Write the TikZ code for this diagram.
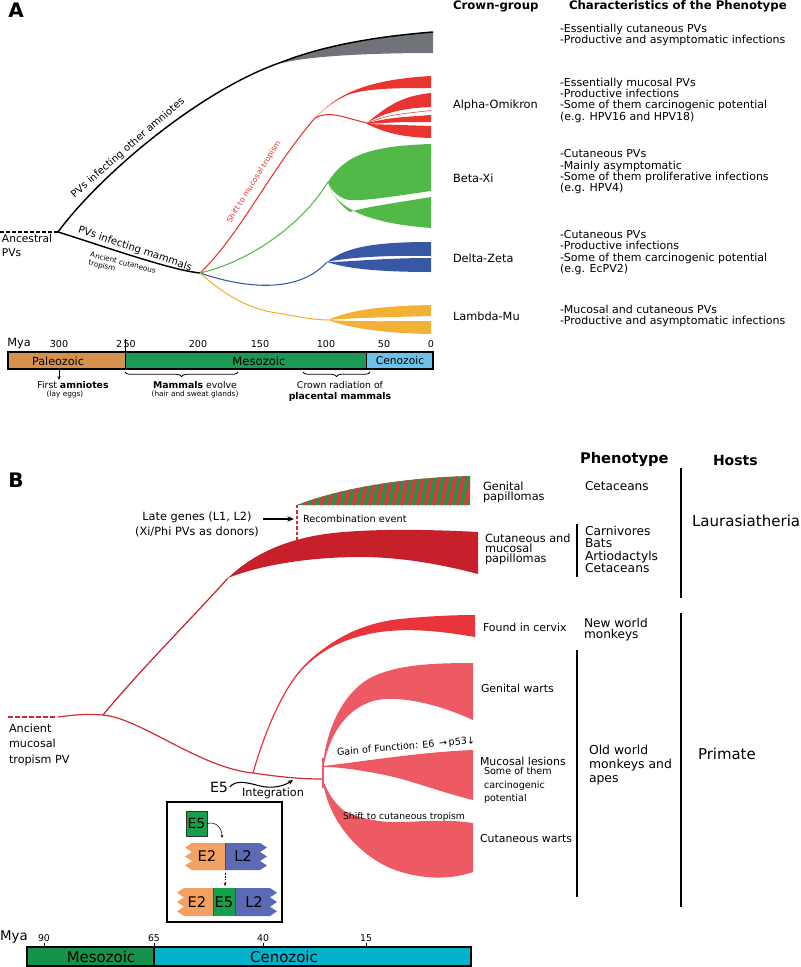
\documentclass[tikz,border=0pt]{standalone}
\usepackage{fontspec}
\setmainfont{DejaVu Sans}
\usetikzlibrary{arrows.meta,decorations.pathreplacing}
\newcommand\fsz[2]{\fontsize{#1pt}{#2pt}\selectfont}
\definecolor{redA}{HTML}{E8352F}
\definecolor{greenA}{HTML}{52B848}
\definecolor{blueA}{HTML}{3858A5}
\definecolor{yellowA}{HTML}{F2B034}
\definecolor{grayA}{HTML}{707478}
\definecolor{paleo}{HTML}{D6914C}
\definecolor{mesoA}{HTML}{1E9955}
\definecolor{cenoA}{HTML}{6EC0E6}
\definecolor{mesoB}{HTML}{15924C}
\definecolor{cenoB}{HTML}{00B3CB}
\definecolor{lineR}{HTML}{CF2B35}
\definecolor{darkR}{HTML}{C8202A}
\definecolor{cervR}{HTML}{E8343A}
\definecolor{pinkR}{HTML}{EE5A64}
\definecolor{strG}{HTML}{1B964B}
\definecolor{strR}{HTML}{D93A3A}
\definecolor{geneG}{HTML}{17A04C}
\definecolor{geneO}{HTML}{F4A060}
\definecolor{geneB}{HTML}{5A6AB4}
\begin{document}
\begin{tikzpicture}[x=0.75pt,y=-0.75pt,
  every node/.style={inner sep=0pt,outer sep=0pt},
  txtA/.style={anchor=west,align=left,font=\fsz{8.25}{8.5}},
  grpA/.style={anchor=west,font=\fsz{8.5}{9}},
  tickA/.style={font=\fsz{7.2}{8}},
  eraA/.style={font=\fsz{8.4}{9}},
  annA/.style={font=\fsz{7}{8}},
  parA/.style={font=\fsz{5.5}{6}},
  blk/.style={line width=1.1pt},
  hostline/.style={line width=1pt}]
\useasboundingbox (0,0) rectangle (800,967);

% ================= PANEL A =================
\node[font=\bfseries\fsz{15}{15}] (labA) at (16,10) {A};
\node[anchor=west,font=\bfseries\fsz{8.8}{9}] (hCG) at (453,6) {Crown-group};
\node[anchor=west,font=\bfseries\fsz{8.8}{9}] (hCH) at (569,6) {Characteristics of the Phenotype};

\node[txtA] (c0) at (560,35) {-Essentially cutaneous PVs\\-Productive and asymptomatic infections};
\node[txtA] (c1) at (560,100) {-Essentially mucosal PVs\\-Productive infections\\-Some of them carcinogenic potential\\(e.g. HPV16 and HPV18)};
\node[txtA] (c2) at (560,172) {-Cutaneous PVs\\-Mainly asymptomatic\\-Some of them proliferative infections\\(e.g. HPV4)};
\node[txtA] (c3) at (560,252.5) {-Cutaneous PVs\\-Productive infections\\-Some of them carcinogenic potential\\(e.g. EcPV2)};
\node[txtA] (c4) at (560,316) {-Mucosal and cutaneous PVs\\-Productive and asymptomatic infections};

\node[grpA] (g1) at (453,105) {Alpha-Omikron};
\node[grpA] (g2) at (453,178) {Beta-Xi};
\node[grpA] (g3) at (453,258) {Delta-Zeta};
\node[grpA] (g4) at (453,316) {Lambda-Mu};

% tree
\coordinate (root) at (58,232);
\coordinate (mam) at (200,273);
\coordinate (rA) at (315,118);
\coordinate (rB) at (367,123);
\coordinate (gA) at (328,182);
\coordinate (bA) at (327,262);
\coordinate (yA) at (328,320);

\draw[line width=0.9pt,dash pattern=on 3pt off 1.5pt] (0,232) -- (root);
\node[anchor=west,align=left,font=\fsz{8}{11.2}] (anc) at (2,245.5) {Ancestral\\PVs};

\fill[grayA] (282,62) .. controls (320,47) and (370,37) .. (433,32) -- (433,53) .. controls (370,53) and (310,56) .. (282,63) -- cycle;
\draw[blk] (root) .. controls (100,175) and (200,90) .. (282,62) .. controls (320,47) and (370,37) .. (433,32);
\draw[blk] (root) .. controls (100,245) and (170,270) .. (mam);

\node[font=\fsz{7.6}{8},rotate=41] (lOth) at (128,148) {PVs infecting other amniotes};
\node[font=\fsz{7.6}{8},rotate=-18.7] (lMam) at (135,249) {PVs infecting mammals};
\node[align=left,font=\fsz{5.4}{6},rotate=-14] (lAnc) at (122,267) {Ancient cutaneous\\tropism};

% red (Alpha-Omikron)
\draw[redA,line width=0.8pt] (mam) .. controls (240,235) and (270,170) .. (rA);
\fill[redA] (rA) .. controls (335,97) and (360,80) .. (431,76) -- (431,88) .. controls (400,88) and (370,88) .. (350,94) .. controls (335,100) and (325,108) .. (rA) -- cycle;
\draw[redA,line width=0.8pt] (rA) .. controls (330,110) and (345,118) .. (rB);
\fill[redA] (rB) .. controls (385,108) and (400,96) .. (431,93) -- (431,107) .. controls (405,108) and (385,112) .. (rB) -- cycle;
\draw[redA,line width=0.4pt] (rB) .. controls (390,115) .. (431,110.5);
\fill[redA] (rB) .. controls (390,118) .. (431,115) -- (431,122) .. controls (400,122) .. (367,124) -- cycle;
\fill[redA] (367,124) .. controls (400,125) .. (431,126) -- (431,138) .. controls (395,137) and (380,130) .. (367,124) -- cycle;
\node[redA,font=\fsz{5.8}{6},rotate=58] (lShift) at (254,182) {Shift to mucosal tropism};

% green (Beta-Xi)
\draw[greenA,line width=0.8pt] (mam) .. controls (245,263) and (300,228) .. (gA);
\fill[greenA] (gA) .. controls (345,155) and (370,146) .. (431,144) -- (431,191) .. controls (395,196) and (355,203) .. (345,199) .. controls (337,196) and (331,190) .. (gA) -- cycle;
\fill[greenA] (gA) .. controls (333,200) and (350,222) .. (431,228) -- (431,197) .. controls (395,203) and (365,207) .. (350,212) .. controls (341,206) and (333,196) .. (gA) -- cycle;

% blue (Delta-Zeta)
\draw[blueA,line width=0.8pt] (mam) .. controls (250,290) and (300,292) .. (bA);
\fill[blueA] (bA) .. controls (345,248) and (370,242) .. (431,242) -- (431,256) .. controls (380,255) and (345,258) .. (bA) -- cycle;
\fill[blueA] (bA) .. controls (350,262) and (380,258) .. (431,258) -- (431,272) .. controls (375,272) and (345,268) .. (bA) -- cycle;

% yellow (Lambda-Mu)
\draw[yellowA,line width=0.8pt] (mam) .. controls (230,300) and (255,310) .. (277,313) .. controls (300,317) and (315,320) .. (yA);
\fill[yellowA] (yA) .. controls (350,310) and (380,306) .. (431,305) -- (431,316) .. controls (390,317) and (350,318) .. (yA) -- cycle;
\fill[yellowA] (yA) .. controls (360,322) and (400,321) .. (431,321) -- (431,334) .. controls (380,333) and (350,328) .. (yA) -- cycle;

% timeline A
\fill[paleo] (8,352) rectangle (125,369);
\fill[mesoA] (125,352) rectangle (366,369);
\fill[cenoA] (366,352) rectangle (433,369);
\draw[line width=0.8pt] (8,352) rectangle (433,369);
\draw[line width=0.6pt] (366,352) -- (366,369);
\node[eraA] (tPal) at (58,361) {Paleozoic};
\node[font=\fsz{8.7}{9}] (tMes) at (259,361) {Mesozoic};
\node[font=\fsz{8}{9}] (tCen) at (400,361) {Cenozoic};
\node[font=\fsz{8.5}{9}] (tMya) at (19,344) {Mya};
\node[tickA] (t300) at (59,344) {300};
\node[tickA] (t250) at (126,344) {2\hspace{1pt}50};
\draw[line width=0.6pt] (125,339) -- (125,369);
\node[tickA] (t200) at (198,344) {200};
\node[tickA] (t150) at (260,344) {150};
\node[tickA] (t100) at (326,344) {100};
\node[tickA] (t50) at (384,344) {50};
\node[tickA] (t0) at (431,344) {0};
\coordinate (arrTop) at (59,370);
\coordinate (arrBot) at (59,380);
\draw[line width=0.5pt,-{Stealth[length=3pt,width=2.5pt]}] (arrTop) -- (arrBot);
\node[annA] (nAmn) at (73,385) {First \textbf{amniotes}};
\node[parA] (nLay) at (65,394) {(lay eggs)};
\draw[line width=0.6pt,decorate,decoration={brace,amplitude=3.5pt,mirror}] (125,372) -- (238,372);
\node[annA] (nMam) at (195,385) {\textbf{Mammals} evolve};
\node[parA] (nHair) at (195,394) {(hair and sweat glands)};
\draw[line width=0.6pt,decorate,decoration={brace,amplitude=3.5pt,mirror}] (303,372) -- (370,372);
\node[annA] (nCrown) at (340,385) {Crown radiation of};
\node[annA] (nPlac) at (340,397) {\textbf{placental mammals}};

% ================= PANEL B =================
\node[font=\bfseries\fsz{15}{15}] (labB) at (16,480) {B};
\node[anchor=west,font=\bfseries\fsz{11}{12}] (hPh) at (580,460) {Phenotype};
\node[anchor=west,font=\bfseries\fsz{10.5}{12}] (hHo) at (713,460) {Hosts};

\coordinate (brA) at (103,715);
\coordinate (brB) at (253,773);
\coordinate (brC) at (323,779);
\coordinate (brD) at (228,578);
\coordinate (rec) at (297,505);
\coordinate (recB) at (297,541);

% striped wedge
\begin{scope}
\clip (rec) .. controls (330,492) and (390,478) .. (470,476) -- (470,505) -- cycle;
\fill[strG] (290,470) rectangle (475,510);
\foreach \i in {0,...,24} \draw[strR,line width=3pt] ({288+8*\i},512) -- ({297+8*\i},470);
\end{scope}
\draw[lineR,line width=0.8pt,dash pattern=on 2.5pt off 1.5pt] (rec) -- (recB);

% dark red wedge
\fill[darkR] (brD) .. controls (255,552) and (290,538) .. (333,533) .. controls (380,528) and (440,530) .. (478,532) -- (478,574) .. controls (440,564) and (400,557) .. (360,557) .. controls (310,557) and (260,565) .. (brD) -- cycle;

% main line
\draw[lineR,line width=0.8pt,dash pattern=on 3.5pt off 1.8pt] (8,717) -- (55,717);
\draw[lineR,line width=0.9pt] (58,717) .. controls (80,714) and (92,714) .. (brA) .. controls (140,718) and (200,768) .. (brB) .. controls (280,777) and (300,779) .. (brC);
\draw[darkR,line width=0.9pt] (brA) .. controls (140,670) and (195,615) .. (brD);

% cervix branch
\fill[cervR] (290,685) .. controls (310,655) and (345,625) .. (400,619) .. controls (430,616) and (455,615) .. (475,615) -- (475,637) .. controls (440,631) and (410,628) .. (380,632) .. controls (340,638) and (310,655) .. (290,685) -- cycle;
\draw[cervR,line width=0.9pt] (brB) .. controls (263,738) and (278,700) .. (296,676) .. controls (312,655) and (335,638) .. (370,630);

% pink shapes
\fill[pinkR] (323,767) .. controls (325,735) and (340,695) .. (370,678) .. controls (395,665) and (430,663) .. (473,663) -- (473,720) .. controls (440,705) and (410,698) .. (385,699) .. controls (355,701) and (333,725) .. (325,760) -- cycle;
\fill[pinkR] (323,766) .. controls (360,762) and (420,752) .. (473,750) -- (473,800) .. controls (440,792) and (410,780) .. (385,775) .. controls (360,770) and (340,767) .. (323,767) -- cycle;
\fill[pinkR] (brC) .. controls (325,810) and (350,850) .. (390,868) .. controls (420,880) and (450,880) .. (473,872) -- (473,823) .. controls (440,818) and (410,823) .. (390,822) .. controls (370,821) and (350,815) .. (343,810) .. controls (335,803) and (327,793) .. (brC) -- cycle;
\draw[pinkR,line width=0.9pt] (323,758) -- (323,788);

\node[font=\fsz{7.2}{8},rotate=5] (gof) at (406,747) {Gain of Function: E6 \,→\,p53↓};
\node[font=\fsz{6.9}{8}] (shc) at (404,817) {Shift to cutaneous tropism};

% texts on tree B
\node[align=center,font=\fsz{8.5}{11.25}] (late) at (197,524.5) {Late genes (L1, L2)\\(Xi/Phi PVs as donors)};
\coordinate (lateA) at (263,519);
\coordinate (lateB) at (294,519);
\draw[line width=0.8pt,-{Stealth[length=5pt,width=4pt]}] (lateA) -- (lateB);
\node[anchor=west,font=\fsz{7.3}{8}] (recT) at (303,519) {Recombination event};
\node[anchor=west,align=left,font=\fsz{8.4}{11.6}] (ancB) at (9,744.5) {Ancient\\mucosal\\tropism PV};

% phenotype texts
\node[anchor=west,align=left,font=\fsz{8.5}{7.5}] (pGen) at (483,492) {Genital\\papillomas};
\node[anchor=west,align=left,font=\fsz{8.5}{7.5}] (pCut) at (485,549) {Cutaneous and\\mucosal\\papillomas};
\node[anchor=west,font=\fsz{8.2}{9}] (pCer) at (483,627) {Found in cervix};
\node[anchor=west,font=\fsz{8.2}{9}] (pGw) at (481,688) {Genital warts};
\node[anchor=west,font=\fsz{8.2}{9}] (pMuc) at (480,761) {Mucosal lesions};
\node[anchor=west,align=left,font=\fsz{7.2}{10.1}] (pSome) at (484,785.5) {Some of them\\carcinogenic\\potential};
\node[anchor=west,font=\fsz{8.2}{9}] (pCw) at (480,839) {Cutaneous warts};

% hosts
\node[anchor=west,font=\fsz{9.1}{10}] (hCet) at (585,486) {Cetaceans};
\node[anchor=west,align=left,font=\fsz{9.2}{9.2}] (hCar) at (585,549.5) {Carnivores\\Bats\\Artiodactyls\\Cetaceans};
\node[anchor=west,align=left,font=\fsz{9.1}{8.25}] (hNew) at (584,629.5) {New world\\monkeys};
\node[anchor=west,align=left,font=\fsz{9.3}{10.5}] (hOld) at (589,765) {Old world\\monkeys and\\apes};
\node[anchor=west,font=\fsz{11.3}{12}] (hLau) at (692,521) {Laurasiatheria};
\node[anchor=west,font=\fsz{11.2}{12}] (hPri) at (698,754) {Primate};
\draw[hostline] (577,524) -- (577,577);
\draw[hostline] (577,650) -- (577,897);
\draw[hostline] (681,468) -- (681,598);
\draw[hostline] (681,613) -- (681,907);

% E5 integration
\node[font=\fsz{10.6}{11}] (e5) at (219,787) {E5};
\node[font=\fsz{8.4}{9}] (integ) at (273,793) {Integration};
\coordinate (e5tip) at (293,780);
\draw[line width=0.8pt,-{Stealth[length=4pt,width=3.5pt]}] (e5.east) ++(2,0) .. controls (235,780) and (246,782) .. (260,786) .. controls (272,789) and (284,786) .. (e5tip);

% inset
\draw[line width=1.1pt] (167,802) rectangle (282,922);
\node[draw=black!80,line width=0.4pt,fill=geneG,minimum width=15.75pt,minimum height=18.75pt,font=\fsz{10.5}{11}] (sqE5) at (196.5,823.5) {E5};
\coordinate (insA) at (222,838);
\draw[line width=0.4pt,-{Stealth[length=2.5pt,width=2pt]}] (sqE5.east) .. controls (216,821) and (222,828) .. (insA);
\fill[geneO] (225,843) -- (192,843) -- (185,847.5) -- (192,852) -- (185,856.5) -- (192,861) -- (185,865.5) -- (192,870) -- (225,870) -- cycle;
\fill[geneB] (225,843) -- (260,843) -- (267,847.5) -- (260,852) -- (267,856.5) -- (260,861) -- (267,865.5) -- (260,870) -- (225,870) -- cycle;
\draw[line width=0.5pt,black!70] (225,843) -- (225,870);
\node[font=\fsz{11}{12}] (r1E2) at (207,856.5) {E2};
\node[font=\fsz{11}{12}] (r1L2) at (243,856.5) {L2};
\coordinate (dA) at (225,873);
\coordinate (dB) at (225,886);
\draw[line width=0.4pt,dash pattern=on 1.2pt off 1pt,-{Stealth[length=2.5pt,width=2pt]}] (dA) -- (dB);
\fill[geneO] (213,888) -- (184,888) -- (177,892.7) -- (184,897.3) -- (177,902) -- (184,906.7) -- (177,911.3) -- (184,916) -- (213,916) -- cycle;
\fill[geneG] (213,888) rectangle (235,916);
\fill[geneB] (235,888) -- (270,888) -- (277,892.7) -- (270,897.3) -- (277,902) -- (270,906.7) -- (277,911.3) -- (270,916) -- (235,916) -- cycle;
\draw[line width=0.4pt,black!70] (213,888) -- (213,916) (235,888) -- (235,916);
\node[font=\fsz{11}{12}] (r2E2) at (197,902) {E2};
\node[font=\fsz{11}{12}] (r2E5) at (224,902) {E5};
\node[font=\fsz{11}{12}] (r2L2) at (254,902) {L2};

% timeline B
\fill[mesoB] (27,947) rectangle (154,966);
\fill[cenoB] (154,947) rectangle (471,966);
\draw[line width=0.8pt] (27,947) rectangle (471,966);
\draw[line width=0.8pt] (154,947) -- (154,966);
\node[font=\fsz{11.2}{12}] (bMes) at (101,957) {Mesozoic};
\node[font=\fsz{11.2}{12}] (bCen) at (284,957) {Cenozoic};
\node[font=\fsz{10}{11}] (bMya) at (14,937) {Mya};
\node[font=\fsz{7}{8}] (b90) at (44,938) {90};
\node[font=\fsz{7}{8}] (b65) at (154,938) {65};
\node[font=\fsz{7}{8}] (b40) at (263,938) {40};
\node[font=\fsz{7}{8}] (b15) at (366,938) {15};
\foreach \xx in {44,154,263,366} \draw[line width=0.5pt] (\xx,943) -- (\xx,947);
\end{tikzpicture}
\end{document}
